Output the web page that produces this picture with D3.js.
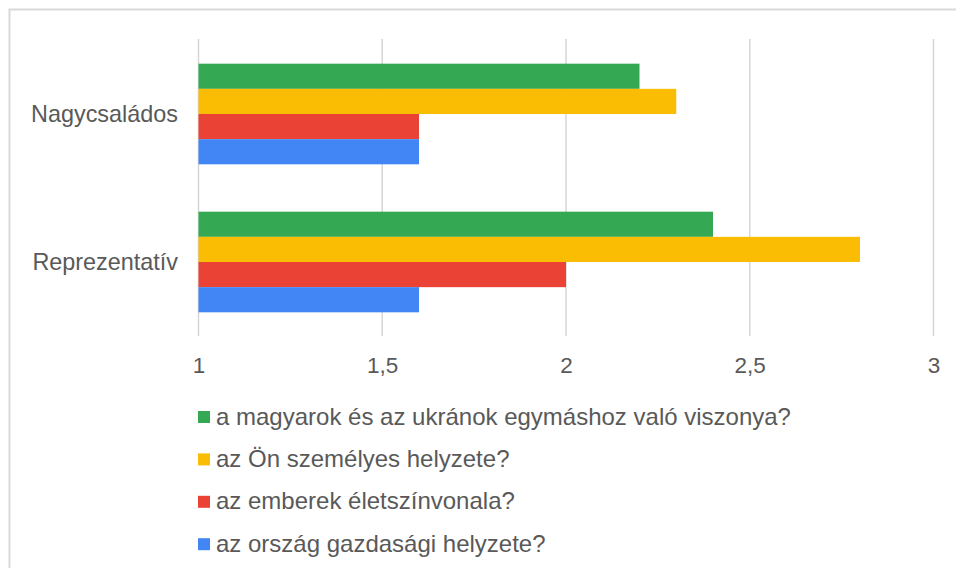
<!DOCTYPE html>
<html>
<head>
  <meta charset="UTF-8">
  <style>
    body { margin: 0; background: #fff; }
    svg { display: block; }
    svg text { font-family: Arial, "Liberation Sans", sans-serif; }
  </style>
</head>
<body>
  <script src="https://d3js.org/d3.v7.min.js"></script>
  <script>
    // categories and series (top to bottom inside each group)
    var categories = ['Nagycsaládos', 'Reprezentatív'];
    var seriesNames = [
      'a magyarok és az ukránok egymáshoz való viszonya?',
      'az Ön személyes helyzete?',
      'az emberek életszínvonala?',
      'az ország gazdasági helyzete?'
    ];
    var seriesColors = ['#34a853', '#fbbc04', '#ea4335', '#4285f4'];
    var valMagyarUkran = [2.2, 2.4];
    var valSzemelyes = [2.3, 2.8];
    var valEletszinvonal = [1.6, 2.0];
    var valGazdasag = [1.6, 1.6];
    var tickValues = [1, 1.5, 2, 2.5, 3];

    var seriesValues = [valMagyarUkran, valSzemelyes, valEletszinvonal, valGazdasag];

    var W = 956, H = 568;
    var textColor = '#595959';

    var svg = d3.select('body').append('svg')
      .attr('width', W)
      .attr('height', H);

    // outer frame
    svg.append('rect')
      .attr('x', 9.5).attr('y', 9.5)
      .attr('width', W + 20).attr('height', H + 20)
      .attr('fill', 'none')
      .attr('stroke', '#d9d9d9')
      .attr('stroke-width', 2);

    var x = d3.scaleLinear().domain([1, 3]).range([198.5, 933.5]);
    var y0 = d3.scaleBand().domain(categories).range([40, 336])
      .paddingInner(0.32).paddingOuter(0.16);
    var y1 = d3.scaleBand().domain(d3.range(seriesNames.length))
      .range([0, y0.bandwidth()]);

    // grid
    svg.append('g').selectAll('line')
      .data(tickValues)
      .join('line')
      .attr('x1', d => x(d)).attr('x2', d => x(d))
      .attr('y1', 39).attr('y2', 336)
      .attr('stroke', '#d6d6d6')
      .attr('stroke-width', 1.5);

    // bars
    var groups = svg.append('g').selectAll('g')
      .data(categories)
      .join('g')
      .attr('transform', d => 'translate(0,' + y0(d) + ')');

    groups.selectAll('rect')
      .data((c, ci) => seriesValues.map((vals, si) => ({ s: si, v: vals[ci] })))
      .join('rect')
      .attr('x', x(1))
      .attr('y', d => y1(d.s))
      .attr('width', d => x(d.v) - x(1))
      .attr('height', y1.bandwidth())
      .attr('fill', d => seriesColors[d.s]);

    // x axis labels
    var fmt = d => String(d).replace('.', ',');
    var xAxis = d3.axisBottom(x).tickValues(tickValues).tickFormat(fmt).tickSize(0).tickPadding(0);
    var gx = svg.append('g').attr('transform', 'translate(0,357)').call(xAxis);
    gx.select('.domain').remove();
    gx.selectAll('text')
      .attr('dy', '0.71em')
      .attr('fill', textColor)
      .style('font-size', '22.5px');

    // y axis labels
    var yAxis = d3.axisLeft(y0).tickSize(0).tickPadding(0);
    var gy = svg.append('g').attr('transform', 'translate(178,0)').call(yAxis);
    gy.select('.domain').remove();
    gy.selectAll('text')
      .attr('fill', textColor)
      .style('font-size', '23.4px');

    // legend
    var legend = svg.append('g').selectAll('g')
      .data(seriesNames)
      .join('g')
      .attr('transform', (d, i) => 'translate(198,' + (411 + i * 42.4) + ')');
    legend.append('rect')
      .attr('width', 12).attr('height', 12)
      .attr('fill', (d, i) => seriesColors[i]);
    legend.append('text')
      .attr('x', 18).attr('y', 13.5)
      .attr('fill', textColor)
      .style('font-size', '24px')
      .text(d => d);
  </script>
</body>
</html>
